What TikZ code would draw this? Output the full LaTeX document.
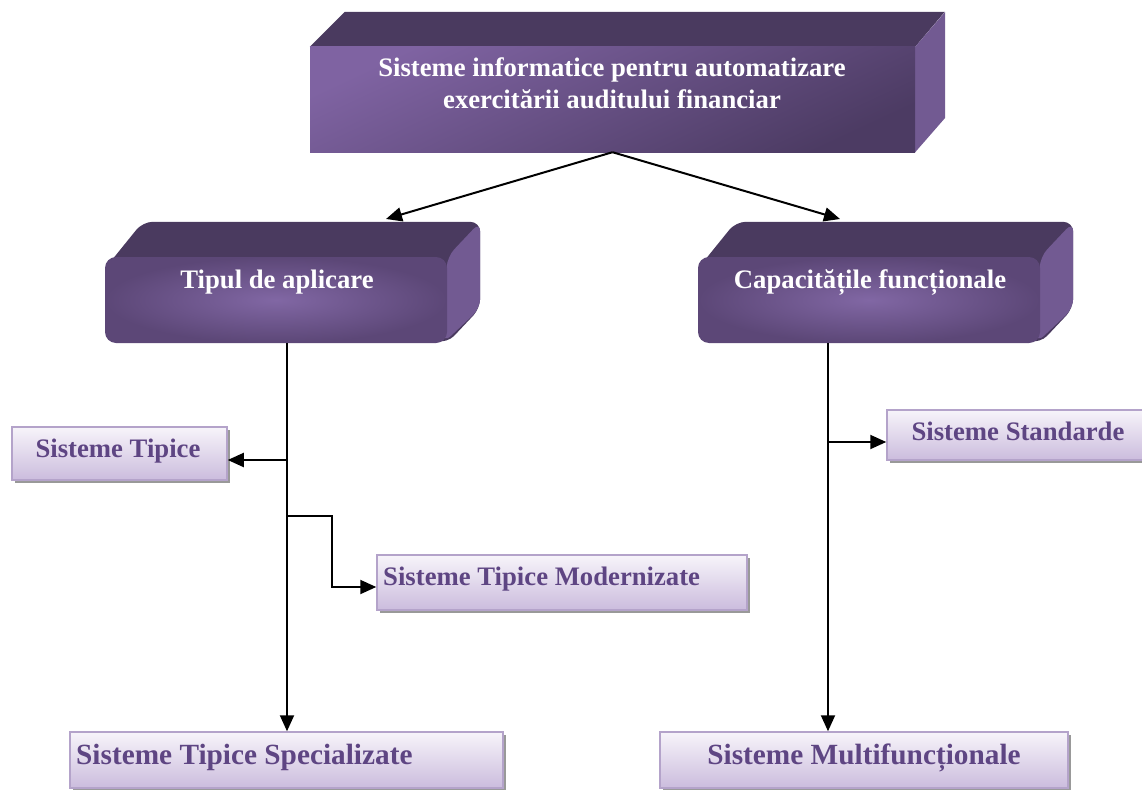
\documentclass[tikz,border=0pt]{standalone}
\usepackage{fontspec}
\setmainfont{Liberation Serif}
\usetikzlibrary{arrows.meta,calc,shadows,backgrounds}
\definecolor{topface}{HTML}{4A3A5F}
\definecolor{sideface}{HTML}{725A92}
\definecolor{frontlight}{HTML}{7F63A2}
\definecolor{frontdark}{HTML}{4C3B63}
\definecolor{rinner}{HTML}{8167A4}
\definecolor{router}{HTML}{5C4777}
\definecolor{lbtxt}{HTML}{5E4583}
\definecolor{lbdraw}{HTML}{B4A3CA}
\definecolor{lbtop}{HTML}{F7F4FA}
\definecolor{lbbot}{HTML}{CBBCDD}
\begin{document}
\begin{tikzpicture}[x=1pt,y=-1pt,
  font=\fontsize{26.7}{37}\selectfont\bfseries,
  cubefront/.style={inner sep=0pt, top color=frontlight, bottom color=frontdark, shading angle=25},
  roundfront/.style={inner sep=0pt, rounded corners=11pt, inner color=rinner, outer color=router},
  facetop/.style={fill=topface},
  faceside/.style={fill=sideface},
  whitetext/.style={text=white, inner sep=0pt, anchor=base},
  lightbox/.style={draw=lbdraw, line width=1.5pt, top color=lbtop, bottom color=lbbot,
    inner sep=0pt,
    drop shadow={shadow xshift=3pt, shadow yshift=-3pt, fill=black!40, opacity=1}},
  lbtext/.style={text=lbtxt, inner sep=0pt, anchor=base},
  bigtext/.style={font=\fontsize{29.3}{35}\selectfont\bfseries},
  arrow/.style={line width=2pt, -{Triangle[length=16pt,width=14pt]}}
]
\useasboundingbox (0,0) rectangle (1142,789);

% ---- top cube ----
\node[cubefront, minimum width=605pt, minimum height=105pt] (top) at (612.5,99.5) {};
\begin{scope}[on background layer]
  \fill[facetop] (top.north west) -- ++(35,-35) -- ++(600,0) -- (top.north east) -- cycle;
  \fill[faceside] (top.north east) -- ++(30,-35) -- ++(0,106) -- (top.south east) -- cycle;
\end{scope}
\node[whitetext] (toptxt1) at (612,77) {Sisteme informatice pentru automatizare};
\node[whitetext] (toptxt2) at (612,109) {exercitării auditului financiar};

% ---- Tipul de aplicare ----
\node[roundfront, minimum width=342pt, minimum height=86pt] (tipul) at (276,300) {};
\begin{scope}[on background layer]
  \fill[facetop, rounded corners=10pt] ($(tipul.north west)+(0,12)$) -- ++(38,-47) -- ($(tipul.north east)+(33,-35)$) -- ($(tipul.south east)+(33,-35)$) -- (tipul.south east) -- cycle;
  \fill[faceside, rounded corners=10pt] (tipul.north east) -- ++(33,-35) -- ($(tipul.south east)+(33,-35)$) -- ($(tipul.south east)+(-4,0)$) -- cycle;
\end{scope}
\node[whitetext] (tipulT) at (277,288) {Tipul de aplicare};

% ---- Capacitatile functionale ----
\node[roundfront, minimum width=342pt, minimum height=86pt] (cap) at (869,300) {};
\begin{scope}[on background layer]
  \fill[facetop, rounded corners=10pt] ($(cap.north west)+(0,12)$) -- ++(38,-47) -- ($(cap.north east)+(33,-35)$) -- ($(cap.south east)+(33,-35)$) -- (cap.south east) -- cycle;
  \fill[faceside, rounded corners=10pt] (cap.north east) -- ++(33,-35) -- ($(cap.south east)+(33,-35)$) -- ($(cap.south east)+(-4,0)$) -- cycle;
\end{scope}
\node[whitetext] (capT) at (870,288) {Capacitățile funcționale};

% ---- light boxes ----
\node[lightbox, minimum width=215pt, minimum height=53pt] (tipice) at (119.5,453.5) {};
\node[lbtext] (tipiceT) at (118,457) {Sisteme Tipice};
\node[lightbox, minimum width=370pt, minimum height=55pt] (modern) at (562,582.5) {};
\node[lbtext, anchor=base west] (modernT) at (383,585) {Sisteme Tipice Modernizate};
\node[lightbox, minimum width=265pt, minimum height=50pt] (std) at (1019.5,435) {};
\node[lbtext] (stdT) at (1018,440) {Sisteme Standarde};
\node[lightbox, minimum width=433pt, minimum height=56pt] (spec) at (286.5,760) {};
\node[lbtext, bigtext, anchor=base west] (specT) at (76,764) {Sisteme Tipice Specializate};
\node[lightbox, minimum width=408pt, minimum height=56pt] (multi) at (864,760) {};
\node[lbtext, bigtext] (multiT) at (864,764) {Sisteme Multifuncționale};

% ---- connectors ----
\coordinate (tipTip) at (386,219);
\coordinate (capTip) at (840,219);
\draw[arrow] (top.south) -- (tipTip);
\draw[arrow] (top.south) -- (capTip);

\coordinate (tA) at (287,343);
\draw[arrow] (tA) -- (tA |- spec.north);
\coordinate (bT) at (287,460);
\draw[arrow] (bT) -- (bT -| tipice.east);
\coordinate (bM) at (287,516);
\draw[arrow] (bM) -- ++(45,0) |- ($(modern.west)+(0,4.5)$);

\coordinate (cA) at (828,343);
\draw[arrow] (cA) -- (cA |- multi.north);
\coordinate (bS) at (828,442);
\draw[arrow] (bS) -- (bS -| std.west);
\end{tikzpicture}
\end{document}
